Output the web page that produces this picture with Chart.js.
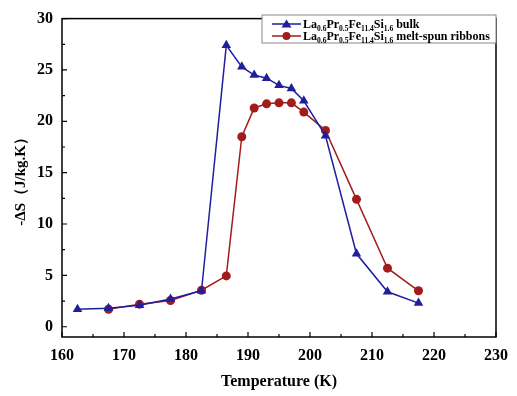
<!DOCTYPE html>
<html>
<head>
<meta charset="utf-8">
<script src="https://cdn.jsdelivr.net/npm/chart.js@4.4.1/dist/chart.umd.min.js"></script>
<style>
  html, body { margin: 0; padding: 0; background: #fff; }
  #wrap { width: 517px; height: 396px; }
</style>
</head>
<body>
<div id="wrap"><canvas id="entropyChart" width="517" height="396"></canvas></div>
<script>
const bulkTemps = [162.5, 167.5, 172.5, 177.5, 182.5, 186.5, 189, 191, 193, 195, 197, 199, 202.5, 207.5, 212.5, 217.5];
const bulkValues = [1.7, 1.8, 2.1, 2.7, 3.5, 27.4, 25.3, 24.5, 24.2, 23.5, 23.2, 22.0, 18.6, 7.1, 3.4, 2.3];
const ribbonTemps = [167.5, 172.5, 177.5, 182.5, 186.5, 189, 191, 193, 195, 197, 199, 202.5, 207.5, 212.5, 217.5];
const ribbonValues = [1.7, 2.2, 2.55, 3.55, 4.95, 18.5, 21.3, 21.7, 21.8, 21.8, 20.9, 19.1, 12.4, 5.7, 3.5];
const xTicks = [160, 170, 180, 190, 200, 210, 220, 230];
const yTicks = [0, 5, 10, 15, 20, 25, 30];

const blue = '#1f1f9e';
const red = '#a31c1c';
const serif = '"Liberation Serif", "Times New Roman", serif';

const bulkLabel = [['La', 0], ['0.6', 1], ['Pr', 0], ['0.5', 1], ['Fe', 0], ['11.4', 1], ['Si', 0], ['1.6', 1], [' bulk', 0]];
const ribbonLabel = [['La', 0], ['0.6', 1], ['Pr', 0], ['0.5', 1], ['Fe', 0], ['11.4', 1], ['Si', 0], ['1.6', 1], [' melt-spun ribbons', 0]];

const toPoints = (xs, ys) => xs.map((x, i) => ({ x, y: ys[i] }));

// frame, inward ticks and the legend with subscripts
const framePlugin = {
  id: 'frame',
  afterDraw(chart) {
    const { ctx, chartArea: a, scales } = chart;
    ctx.save();
    ctx.strokeStyle = '#000';
    ctx.lineWidth = 1.5;
    ctx.strokeRect(a.left, a.top, a.right - a.left, a.bottom - a.top);

    ctx.lineWidth = 1.2;
    ctx.beginPath();
    for (let v = 160; v <= 230; v += 5) {
      const px = scales.x.getPixelForValue(v);
      const len = v % 10 === 0 ? 5 : 3;
      ctx.moveTo(px, a.bottom);
      ctx.lineTo(px, a.bottom - len);
    }
    for (let v = 0; v <= 30; v += 2.5) {
      const py = scales.y.getPixelForValue(v);
      const len = v % 5 === 0 ? 5 : 3;
      ctx.moveTo(a.left, py);
      ctx.lineTo(a.left + len, py);
    }
    ctx.stroke();

    // legend
    const bx = 262, by = 15, bw = a.right - 262, bh = 28;
    ctx.fillStyle = '#fff';
    ctx.fillRect(bx, by, bw, bh);
    ctx.strokeStyle = '#888';
    ctx.lineWidth = 1;
    ctx.strokeRect(bx, by, bw, bh);

    const rows = [
      { parts: bulkLabel, color: blue, style: 'triangle', y: by + 9 },
      { parts: ribbonLabel, color: red, style: 'circle', y: by + 21 },
    ];
    rows.forEach((row) => {
      ctx.strokeStyle = row.color;
      ctx.lineWidth = 1.5;
      ctx.beginPath();
      ctx.moveTo(bx + 10, row.y);
      ctx.lineTo(bx + 39, row.y);
      ctx.stroke();
      ctx.fillStyle = row.color;
      ctx.beginPath();
      if (row.style === 'triangle') {
        ctx.moveTo(bx + 24.5, row.y - 4.5);
        ctx.lineTo(bx + 29.5, row.y + 3.5);
        ctx.lineTo(bx + 19.5, row.y + 3.5);
        ctx.closePath();
      } else {
        ctx.arc(bx + 24.5, row.y, 4, 0, Math.PI * 2);
      }
      ctx.fill();

      let tx = bx + 41;
      ctx.fillStyle = '#000';
      ctx.textBaseline = 'alphabetic';
      row.parts.forEach(([txt, sub]) => {
        ctx.font = sub ? `bold 7.5px ${serif}` : `bold 12px ${serif}`;
        ctx.fillText(txt, tx, row.y + (sub ? 6.5 : 4));
        tx += ctx.measureText(txt).width;
      });
    });
    ctx.restore();
  },
};

const ctx = document.getElementById('entropyChart').getContext('2d');
const entropyChart = new Chart(ctx, {
  type: 'line',
  data: {
    datasets: [
      {
        label: 'bulk',
        data: toPoints(bulkTemps, bulkValues),
        borderColor: blue,
        backgroundColor: blue,
        borderWidth: 1.5,
        pointStyle: 'triangle',
        pointRadius: 5.5,
        pointBorderWidth: 0,
      },
      {
        label: 'melt-spun ribbons',
        data: toPoints(ribbonTemps, ribbonValues),
        borderColor: red,
        backgroundColor: red,
        borderWidth: 1.5,
        pointStyle: 'circle',
        pointRadius: 4.5,
        pointBorderWidth: 0,
      },
    ],
  },
  options: {
    responsive: false,
    animation: false,
    layout: { padding: { top: 16, right: 16, left: 0, bottom: 0 } },
    plugins: {
      legend: { display: false },
      tooltip: { enabled: false },
    },
    scales: {
      x: {
        type: 'linear',
        min: 160,
        max: 230,
        afterBuildTicks: (scale) => { scale.ticks = xTicks.map((v) => ({ value: v })); },
        afterFit: (scale) => { scale.height = 59; },
        grid: { display: false, drawTicks: false },
        border: { display: false },
        ticks: {
          padding: 9,
          color: '#000',
          font: { family: serif, size: 16, weight: 'bold' },
        },
        title: {
          display: true,
          text: 'Temperature (K)',
          color: '#000',
          font: { family: serif, size: 16, weight: 'bold' },
          padding: { top: 0, bottom: 5 },
        },
      },
      y: {
        min: -1,
        max: 30,
        afterBuildTicks: (scale) => { scale.ticks = yTicks.map((v) => ({ value: v })); },
        afterFit: (scale) => { scale.width = 62; },
        grid: { display: false, drawTicks: false },
        border: { display: false },
        ticks: {
          padding: 9,
          color: '#000',
          font: { family: serif, size: 16, weight: 'bold' },
        },
        title: {
          display: true,
          text: '-ΔS（J/kg.K）',
          color: '#000',
          font: { family: serif, size: 15, weight: 'bold' },
          padding: { top: 12, bottom: 0 },
        },
      },
    },
  },
  plugins: [framePlugin],
});
</script>
</body>
</html>
